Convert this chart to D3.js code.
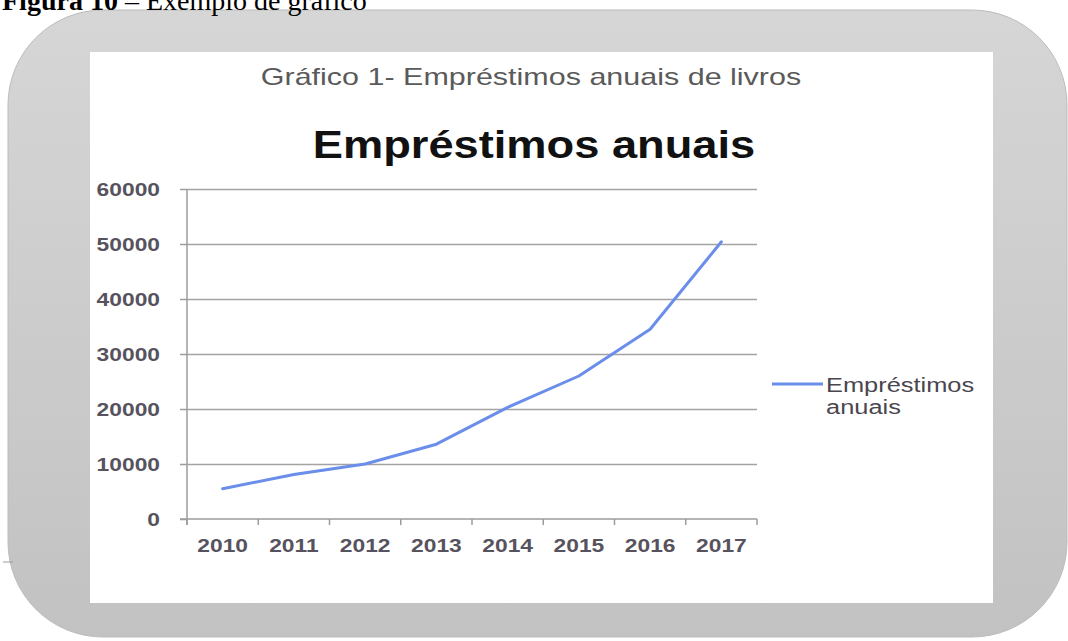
<!DOCTYPE html>
<html>
<head>
<meta charset="utf-8">
<script src="https://d3js.org/d3.v7.min.js"></script>
<style>
  body { margin: 0; background: #fff; }
  .tick text { font-family: "Liberation Sans", Arial, sans-serif; }
</style>
</head>
<body>
<div id="chart"></div>
<script>
// values
var years = ["2010", "2011", "2012", "2013", "2014", "2015", "2016", "2017"];
var emprestimos = [5500, 8100, 10000, 13600, 20300, 26000, 34500, 50400];
var yTicks = [0, 10000, 20000, 30000, 40000, 50000, 60000];
var seriesName = ["Empréstimos", "anuais"];
var chartTitle = "Empréstimos anuais";
var subTitle = "Gráfico 1- Empréstimos anuais de livros";

var W = 1068, H = 641;
var plot = {left: 187, right: 757, top: 189, bottom: 519};

var svg = d3.select("#chart").append("svg")
    .attr("width", W)
    .attr("height", H);

//Grey rounded frame behind the chart
var defs = svg.append("defs");
var grad = defs.append("linearGradient")
    .attr("id", "frameGrad")
    .attr("x1", 0).attr("y1", 0).attr("x2", 0).attr("y2", 1);
grad.append("stop").attr("offset", "0%").attr("stop-color", "#d6d6d6");
grad.append("stop").attr("offset", "100%").attr("stop-color", "#c2c2c2");

svg.append("rect")
    .attr("x", 8).attr("y", 10)
    .attr("width", 1059).attr("height", 627)
    .attr("rx", 95).attr("ry", 95)
    .attr("fill", "url(#frameGrad)")
    .attr("stroke", "#bcbcbc")
    .attr("stroke-width", 1);

//small stray mark on the left edge
svg.append("line")
    .attr("x1", 3).attr("x2", 13).attr("y1", 562).attr("y2", 562)
    .attr("stroke", "#9a9a9a").attr("stroke-width", 1);

//White chart area
svg.append("rect")
    .attr("x", 90).attr("y", 52)
    .attr("width", 903).attr("height", 551)
    .attr("fill", "#fff");

//Caption of the document, cut at the top
var cap = svg.append("text")
    .attr("x", 2).attr("y", 10)
    .attr("font-family", "'Liberation Serif', 'Times New Roman', serif")
    .attr("font-size", 28)
    .attr("fill", "#000");
cap.append("tspan").attr("font-weight", "bold").text("Figura 10");
cap.append("tspan").text(" – Exemplo de gráfico");

//Scales
var x = d3.scaleBand().domain(years).range([plot.left, plot.right]).padding(0);
var y = d3.scaleLinear().domain([0, 60000]).range([plot.bottom, plot.top]);

//stretch text sideways like the scanned picture
function stretch(sel, sx) {
  sel.each(function() {
    var w = this.getComputedTextLength();
    d3.select(this)
      .attr("textLength", w * sx)
      .attr("lengthAdjust", "spacingAndGlyphs");
  });
}

//Titles
var t1 = svg.append("text")
    .attr("x", 531).attr("y", 85)
    .attr("text-anchor", "middle")
    .attr("font-family", "'Liberation Sans', Arial, sans-serif")
    .attr("font-size", 24)
    .attr("fill", "#5a5a5a")
    .text(subTitle);
stretch(t1, 1.27);

var t2 = svg.append("text")
    .attr("x", 534).attr("y", 158)
    .attr("text-anchor", "middle")
    .attr("font-family", "'Liberation Sans', Arial, sans-serif")
    .attr("font-weight", "bold")
    .attr("font-size", 38)
    .attr("fill", "#111")
    .text(chartTitle);
stretch(t2, 1.19);

//Gridlines
svg.append("g")
    .attr("class", "grid")
    .attr("transform", "translate(" + plot.left + ",0)")
    .call(d3.axisLeft(y).tickValues(yTicks.slice(1)).tickSize(-(plot.right - plot.left)).tickFormat(""))
    .call(function(g) { g.select(".domain").remove(); })
    .selectAll("line")
    .attr("stroke", "#a3a3a3")
    .attr("stroke-width", 1.5);

//Y axis
var yAx = svg.append("g")
    .attr("class", "axis axis--y")
    .attr("transform", "translate(" + plot.left + ",0)")
    .call(d3.axisLeft(y).tickValues(yTicks).tickSize(7).tickPadding(20).tickFormat(d3.format("d")));
yAx.select(".domain").attr("stroke", "#9c9c9c").attr("stroke-width", 1.5)
    .attr("d", "M0," + plot.top + "V" + (plot.bottom + 6));
yAx.selectAll(".tick line").attr("stroke", "#9c9c9c").attr("stroke-width", 1.5);
yAx.selectAll(".tick text")
    .attr("font-size", 19)
    .attr("font-weight", "bold")
    .attr("fill", "#57535e")
    .call(stretch, 1.2);

//X axis, ticks on the band edges
var xAx = svg.append("g")
    .attr("class", "axis axis--x")
    .attr("transform", "translate(0," + plot.bottom + ")")
    .call(d3.axisBottom(x).tickSize(0).tickPadding(20));
xAx.select(".domain").remove();
xAx.append("line")
    .attr("x1", plot.left - 7).attr("x2", plot.right)
    .attr("stroke", "#9c9c9c").attr("stroke-width", 1.5);
xAx.selectAll(".edge")
    .data(years.concat(["end"]))
    .enter().append("line")
    .attr("class", "edge")
    .attr("x1", function(d) { return d == "end" ? plot.right : x(d); })
    .attr("x2", function(d) { return d == "end" ? plot.right : x(d); })
    .attr("y1", 0).attr("y2", 6)
    .attr("stroke", "#9c9c9c").attr("stroke-width", 1.5);
xAx.selectAll(".tick text")
    .attr("font-size", 19)
    .attr("font-weight", "bold")
    .attr("fill", "#57535e")
    .call(stretch, 1.2);

//The line
var line = d3.line()
    .x(function(d, i) { return x(years[i]) + x.bandwidth() / 2; })
    .y(function(d) { return y(d); });

svg.append("path")
    .datum(emprestimos)
    .attr("fill", "none")
    .attr("stroke", "#6a8eea")
    .attr("stroke-width", 3)
    .attr("stroke-linejoin", "round")
    .attr("stroke-linecap", "round")
    .attr("d", line);

//Legend
var legend = svg.append("g").attr("transform", "translate(772,384)");
legend.append("line")
    .attr("x1", 0).attr("x2", 51)
    .attr("stroke", "#6a8eea").attr("stroke-width", 3);
legend.selectAll("text")
    .data(seriesName)
    .enter().append("text")
    .attr("x", 54)
    .attr("y", function(d, i) { return 8 + i * 22; })
    .attr("font-family", "'Liberation Sans', Arial, sans-serif")
    .attr("font-size", 20)
    .attr("fill", "#4a4650")
    .text(function(d) { return d; })
    .call(stretch, 1.27);
</script>
</body>
</html>
